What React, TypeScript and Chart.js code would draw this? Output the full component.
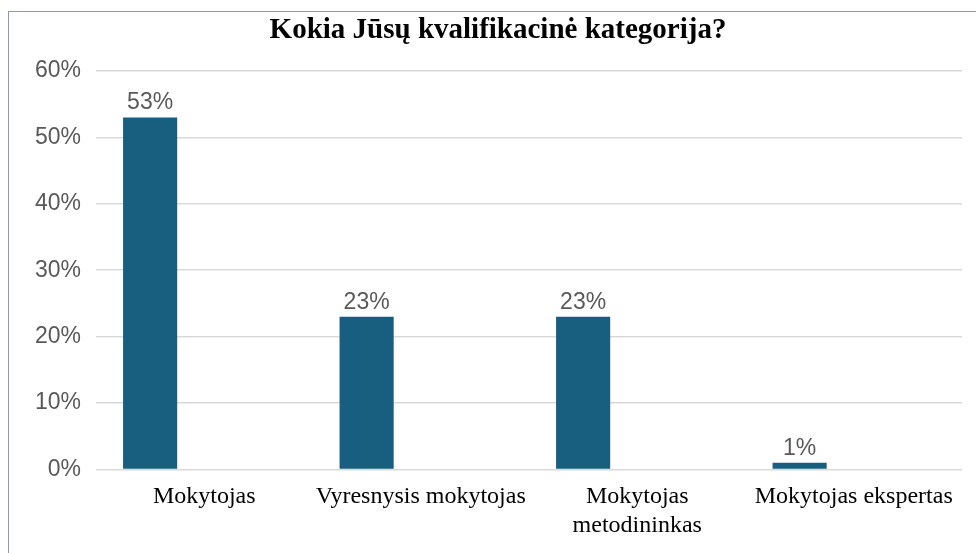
import React, { useEffect, useRef } from "react";
import { Chart, registerables } from "chart.js";

Chart.register(...registerables);

const TITLE = "Kokia Jūsų kvalifikacinė kategorija?";
const CATEGORIES: (string | string[])[] = [
  "Mokytojas",
  "Vyresnysis mokytojas",
  ["Mokytojas", "metodininkas"],
  "Mokytojas ekspertas",
];
const VALUES = [53, 23, 23, 1];
const EMPTY_SERIES = [null, null, null, null];
const Y_MIN = 0;
const Y_MAX = 60;
const Y_STEP = 10;

const BAR_COLOR = "#175E7F";

const valueLabels = {
  id: "valueLabels",
  afterDatasetsDraw(chart: any) {
    const ctx = chart.ctx;
    const meta = chart.getDatasetMeta(0);
    ctx.save();
    ctx.font = '23px "Liberation Sans", Arial, sans-serif';
    ctx.fillStyle = "#595959";
    ctx.textAlign = "center";
    ctx.textBaseline = "bottom";
    meta.data.forEach((el: any, i: number) => {
      const v = chart.data.datasets[0].data[i];
      ctx.fillText(v + "%", el.x, el.y - 3);
    });
    ctx.restore();
  },
};

const titlePlugin = {
  id: "customTitle",
  afterDraw(chart: any) {
    const ctx = chart.ctx;
    ctx.save();
    ctx.font = 'bold 29px "Liberation Serif", "Times New Roman", serif';
    ctx.fillStyle = "#000";
    ctx.textAlign = "center";
    ctx.textBaseline = "middle";
    ctx.fillText(TITLE, 489, 19);
    ctx.restore();
  },
};

export default function App() {
  const ref = useRef<HTMLCanvasElement>(null);
  useEffect(() => {
    if (!ref.current) return;
    const chart = new Chart(ref.current, {
      type: "bar",
      data: {
        labels: CATEGORIES as any,
        datasets: [
          {
            data: VALUES,
            backgroundColor: BAR_COLOR,
            borderWidth: 0,
            categoryPercentage: 1,
            barPercentage: 0.5,
          },
          {
            data: EMPTY_SERIES as any,
            backgroundColor: "#ED7D31",
            categoryPercentage: 1,
            barPercentage: 0.5,
          },
        ],
      },
      options: {
        responsive: false,
        animation: false,
        layout: { padding: { left: 0, right: 14, top: 59, bottom: 0 } },
        plugins: {
          legend: { display: false },
          tooltip: { enabled: false },
          title: { display: false },
        },
        scales: {
          x: {
            grid: { display: false, drawTicks: false },
            border: { display: false },
            ticks: {
              color: "#000",
              font: { family: '"Liberation Serif", "Times New Roman", serif', size: 24, lineHeight: 1.2 },
              padding: 13,
              maxRotation: 0,
              minRotation: 0,
              autoSkip: false,
            },
          },
          y: {
            min: Y_MIN,
            max: Y_MAX,
            afterFit: (s: any) => {
              s.width = 87;
            },
            grid: { color: "#d9d9d9", lineWidth: 1.5, drawTicks: false },
            border: { display: false },
            ticks: {
              stepSize: Y_STEP,
              color: "#595959",
              font: { family: '"Liberation Sans", Arial, sans-serif', size: 23 },
              padding: 15,
              callback: (v: any) => v + "%",
            },
          },
        },
      },
      plugins: [valueLabels, titlePlugin],
    });
    return () => chart.destroy();
  }, []);
  return (
    <div
      style={{
        position: "fixed",
        left: 8,
        top: 11,
        width: 968,
        height: 542,
        boxSizing: "border-box",
        borderTop: "1px solid #8a9ab0",
        borderLeft: "1px solid #8a9ab0",
        background: "#fff",
      }}
    >
      <canvas ref={ref} width={967} height={541} style={{ display: "block" }} />
    </div>
  );
}
